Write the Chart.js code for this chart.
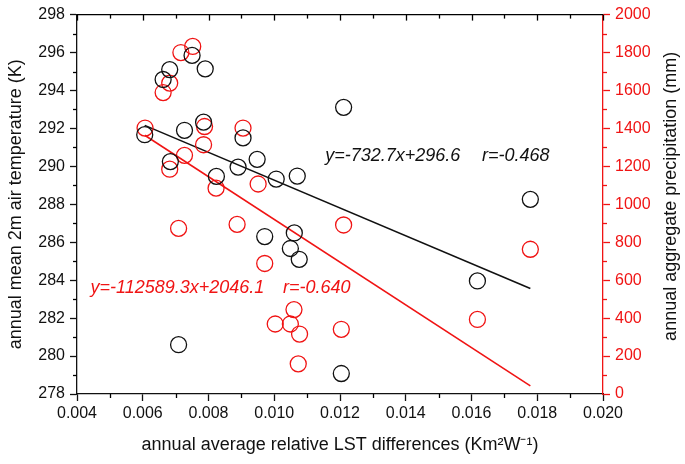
<!DOCTYPE html>
<html>
<head>
<meta charset="utf-8">
<script src="https://cdn.jsdelivr.net/npm/chart.js@4/dist/chart.umd.min.js"></script>
<style>
  body { margin: 0; background: #fff; }
  canvas { display: block; }
</style>
</head>
<body>
<canvas id="chart" width="685" height="464"></canvas>
<script>
// air temperature (K) against LST difference
tempX = [0.00750, 0.00682, 0.00790, 0.00662, 0.00606, 0.00727, 0.00785, 0.00905, 0.00684, 0.00948, 0.00890, 0.00824, 0.01006, 0.01070, 0.00971, 0.01061, 0.01049, 0.01076, 0.00709, 0.01211, 0.01204, 0.01618, 0.01779];
tempY = [295.85, 295.10, 295.14, 294.58, 291.67, 291.90, 292.33, 291.50, 290.25, 290.37, 289.96, 289.47, 289.33, 289.49, 286.30, 286.49, 285.67, 285.10, 280.60, 293.11, 279.08, 283.96, 288.26];

// precipitation (mm) against LST difference
precX = [0.00716, 0.00752, 0.00682, 0.00662, 0.00607, 0.00788, 0.00905, 0.00785, 0.00727, 0.00682, 0.00823, 0.00951, 0.00709, 0.00887, 0.00971, 0.01060, 0.01003, 0.01049, 0.01077, 0.01073, 0.01211, 0.01204, 0.01618, 0.01779];
precY = [1800, 1832, 1639, 1589, 1402, 1410, 1402, 1314, 1258, 1185, 1085, 1107, 873, 894, 688, 445, 369, 369, 316, 159, 891, 341, 393, 763];

// fitted lines
tempFit = {slope: -732.7, icpt: 296.6, r: -0.468};
precFit = {slope: -112589.3, icpt: 2046.1, r: -0.640};
fitRange = [0.00606, 0.01779];

xTicks = {min: 0.004, max: 0.020, step: 0.002};
tempTicks = {min: 278, max: 298, step: 2};
precTicks = {min: 0, max: 2000, step: 200};

RED = '#f01414';
FONT = "'Liberation Sans', Arial, sans-serif";

function pts(xs, ys) {
  var out = [];
  for (var i = 0; i < xs.length; i++) out.push({x: xs[i], y: ys[i]});
  return out;
}
function fitLine(f) {
  return fitRange.map(function (x) { return {x: x, y: f.slope * x + f.icpt}; });
}
function fmt(n) { return n.toFixed(1); }

// minor ticks, top frame, right title and equation texts
var extras = {
  id: 'extras',
  afterDraw: function (chart) {
    var c = chart.ctx, a = chart.chartArea;
    var sx = chart.scales.x, sy = chart.scales.y, sy1 = chart.scales.y1;
    c.save();
    c.lineWidth = 1.3;
    c.strokeStyle = '#000';
    // top frame
    c.beginPath(); c.moveTo(a.left, a.top); c.lineTo(a.right, a.top); c.stroke();
    for (var v = xTicks.min; v <= xTicks.max + 1e-9; v += xTicks.step / 2) {
      var px = Math.round(sx.getPixelForValue(v)) + 0.5;
      var major = Math.abs(Math.round(v / xTicks.step) * xTicks.step - v) < 1e-9;
      c.beginPath(); c.moveTo(px, a.top); c.lineTo(px, a.top + (major ? 6 : 4)); c.stroke();
      if (!major) {
        c.beginPath(); c.moveTo(px, a.bottom); c.lineTo(px, a.bottom + 4); c.stroke();
      }
    }
    for (var t = tempTicks.min + tempTicks.step / 2; t < tempTicks.max; t += tempTicks.step) {
      var py = Math.round(sy.getPixelForValue(t)) + 0.5;
      c.beginPath(); c.moveTo(a.left, py); c.lineTo(a.left - 4, py); c.stroke();
    }
    c.strokeStyle = RED;
    for (var p = precTicks.min + precTicks.step / 2; p < precTicks.max; p += precTicks.step) {
      var py2 = Math.round(sy1.getPixelForValue(p)) + 0.5;
      c.beginPath(); c.moveTo(a.right, py2); c.lineTo(a.right + 4, py2); c.stroke();
    }
    // right axis title, reading upwards like the left one
    c.save();
    c.translate(671, (a.top + a.bottom) / 2 - 8);
    c.rotate(-Math.PI / 2);
    c.font = '18px ' + FONT;
    c.fillStyle = '#111';
    c.textAlign = 'center';
    c.textBaseline = 'middle';
    c.fillText('annual aggregate precipitation (mm)', 0, 0);
    c.restore();
    // equations
    c.font = 'italic 18px ' + FONT;
    c.textBaseline = 'middle';
    c.fillStyle = '#111';
    var ty = sy.getPixelForValue(290.53);
    c.fillText('y=' + fmt(tempFit.slope) + 'x+' + fmt(tempFit.icpt), sx.getPixelForValue(0.01155), ty);
    c.fillText('r=' + tempFit.r.toFixed(3), sx.getPixelForValue(0.01632), ty);
    c.fillStyle = RED;
    var ry = sy.getPixelForValue(283.6);
    c.fillText('y=' + fmt(precFit.slope) + 'x+' + fmt(precFit.icpt), sx.getPixelForValue(0.00441), ry);
    c.fillText('r=' + precFit.r.toFixed(3), sx.getPixelForValue(0.010266), ry);
    c.restore();
  }
};

new Chart(document.getElementById('chart'), {
  type: 'scatter',
  data: {
    datasets: [
      {data: pts(tempX, tempY), yAxisID: 'y', borderColor: '#111', backgroundColor: 'rgba(0,0,0,0)',
       pointRadius: 8, pointBorderWidth: 1.3, pointHoverRadius: 8},
      {data: pts(precX, precY), yAxisID: 'y1', borderColor: RED, backgroundColor: 'rgba(0,0,0,0)',
       pointRadius: 8, pointBorderWidth: 1.3, pointHoverRadius: 8},
      {type: 'line', data: fitLine(tempFit), yAxisID: 'y', borderColor: '#111', borderWidth: 1.6,
       pointRadius: 0, fill: false},
      {type: 'line', data: fitLine(precFit), yAxisID: 'y1', borderColor: RED, borderWidth: 1.6,
       pointRadius: 0, fill: false}
    ]
  },
  options: {
    responsive: false,
    animation: false,
    layout: {padding: {top: 9, left: 0, right: 0, bottom: 0}},
    plugins: {legend: {display: false}, tooltip: {enabled: false}},
    scales: {
      x: {
        type: 'linear', min: xTicks.min, max: xTicks.max,
        ticks: {stepSize: xTicks.step, color: '#111', font: {family: FONT, size: 16}, padding: 3,
                callback: function (v) { return v.toFixed(3); }},
        grid: {drawOnChartArea: false, tickLength: 7, color: '#111', tickWidth: 1.3},
        border: {display: true, color: '#111', width: 1.3},
        title: {display: true, text: 'annual average relative LST differences (Km\u00b2W\u207b\u00b9)',
                color: '#111', font: {family: FONT, size: 18}, padding: {top: 8, bottom: 8}},
        afterFit: function (s) { s.height = 70; }
      },
      y: {
        position: 'left', min: tempTicks.min, max: tempTicks.max,
        ticks: {stepSize: tempTicks.step, color: '#111', font: {family: FONT, size: 16}, padding: 5},
        grid: {drawOnChartArea: false, tickLength: 7, color: '#111', tickWidth: 1.3},
        border: {display: true, color: '#111', width: 1.3},
        title: {display: true, text: 'annual mean 2m air temperature (K)', color: '#111',
                font: {family: FONT, size: 18}, padding: {top: 5, bottom: 4}},
        afterFit: function (s) { s.width = 77; }
      },
      y1: {
        position: 'right', min: precTicks.min, max: precTicks.max,
        ticks: {stepSize: precTicks.step, color: RED, font: {family: FONT, size: 16}, padding: 5,
                callback: function (v) { return String(v); }},
        grid: {drawOnChartArea: false, tickLength: 7, color: RED, tickWidth: 1.3},
        border: {display: true, color: RED, width: 1.3},
        title: {display: false},
        afterFit: function (s) { s.width = 82; }
      }
    }
  },
  plugins: [extras]
});
</script>
</body>
</html>
